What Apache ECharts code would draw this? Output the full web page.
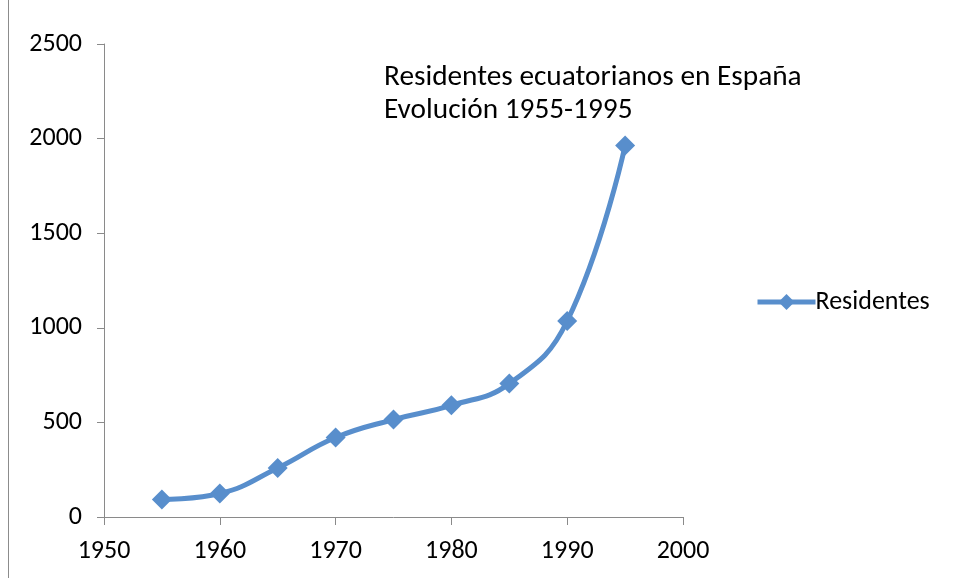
<!DOCTYPE html>
<html>
<head>
<meta charset="utf-8">
<script src="https://cdn.jsdelivr.net/npm/echarts@6/dist/echarts.min.js"></script>
<style>
html,body{margin:0;padding:0;background:#fff;}
#chart{width:955px;height:578px;}
</style>
</head>
<body>
<div id="chart"></div>
<script>
const years = [1955, 1960, 1965, 1970, 1975, 1980, 1985, 1990, 1995];
const residentes = [92, 124, 259, 420, 515, 590, 705, 1036, 1964];
const seriesName = 'Residentes';
const titleLines = ['Residentes ecuatorianos en España', 'Evolución 1955-1995'];

const FONT = 'Carlito, Calibri, "Liberation Sans", Arial, sans-serif';
const BLUE = '#588ECC';
const AXIS = '#8a8a8a';

const chart = echarts.init(document.getElementById('chart'), null, {renderer: 'canvas'});
chart.setOption({
  backgroundColor: '#fff',
  animation: false,
  textStyle: {fontFamily: FONT},
  title: {
    text: titleLines.join('\n'),
    left: 379,
    top: 56,
    textStyle: {fontFamily: FONT, fontSize: 29.3, fontWeight: 'normal', color: '#000', lineHeight: 33}
  },
  legend: {
    data: [seriesName],
    left: 750,
    top: 284,
    itemWidth: 58,
    itemHeight: 20,
    itemGap: 4,
    lineStyle: {width: 5},
    textStyle: {fontFamily: FONT, fontSize: 26, color: '#000', padding: [0,0,0,-5]}
  },
  grid: {left: 104, right: 272, top: 44, bottom: 61, containLabel: false},
  xAxis: {
    type: 'value',
    min: 1950, max: 2000, interval: 10,
    axisLine: {show: true, lineStyle: {color: AXIS, width: 1}},
    axisTick: {show: true, inside: false, length: 8, lineStyle: {color: AXIS}},
    axisLabel: {fontFamily: FONT, fontSize: 26, color: '#000', margin: 21, formatter: v => String(v)},
    splitLine: {show: false}
  },
  yAxis: {
    type: 'value',
    min: 0, max: 2500, interval: 500,
    axisLine: {show: true, lineStyle: {color: AXIS, width: 1}},
    axisTick: {show: true, inside: false, length: 7, lineStyle: {color: AXIS}},
    axisLabel: {fontFamily: FONT, fontSize: 26, color: '#000', margin: 22, formatter: v => String(v)},
    splitLine: {show: false}
  },
  series: [{
    name: seriesName,
    type: 'line',
    data: years.map((y, i) => [y, residentes[i]]),
    smooth: 0.45,
    symbol: 'diamond',
    symbolSize: 20,
    showAllSymbol: true,
    lineStyle: {color: BLUE, width: 5},
    itemStyle: {color: BLUE, borderWidth: 0}
  }],
  graphic: [{
    type: 'line',
    shape: {x1: 8.5, y1: 0, x2: 8.5, y2: 578},
    style: {stroke: '#8c8c8c', lineWidth: 1}
  }]
});
</script>
</body>
</html>
